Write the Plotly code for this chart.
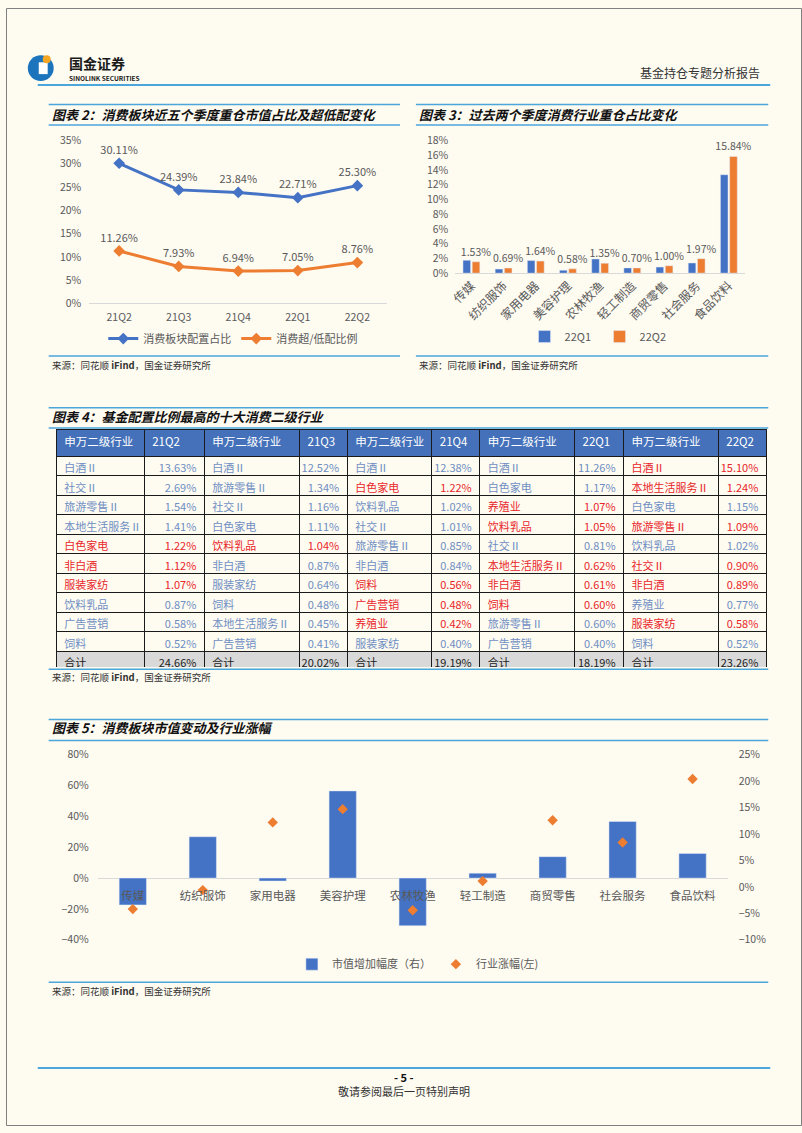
import plotly.graph_objects as go

W, H = 802, 1133
def fx(p): return p / W
def fy(p): return 1 - p / H

BG = '#FEFBF1'
BLUE = '#4472C4'
ORANGE = '#ED7D31'
LINEC = '#4BA6DC'
GRAY = '#595959'
FONT = 'Noto Sans CJK SC'

# ---------------- data ----------------
quarters = ['21Q2', '21Q3', '21Q4', '22Q1', '22Q2']
share = [30.11, 24.39, 23.84, 22.71, 25.30]
overweight = [11.26, 7.93, 6.94, 7.05, 8.76]

industries = ['传媒', '纺织服饰', '家用电器', '美容护理', '农林牧渔', '轻工制造', '商贸零售', '社会服务', '食品饮料']
q1_22 = [1.75, 0.55, 1.70, 0.40, 1.93, 0.71, 0.82, 1.38, 13.36]
q2_22 = [1.53, 0.69, 1.64, 0.58, 1.35, 0.70, 1.00, 1.97, 15.84]

mv_change = [-17.4, 26.8, -1.9, 56.5, -30.9, 3.2, 13.9, 36.7, 16.0]
ind_return = [-4.2, -0.6, 12.2, 14.7, -4.4, 1.1, 12.6, 8.4, 20.4]

tbl_quarters = ['21Q2', '21Q3', '21Q4', '22Q1', '22Q2']
tbl_names = [
    ['白酒Ⅱ', '社交Ⅱ', '旅游零售Ⅱ', '本地生活服务Ⅱ', '白色家电', '非白酒', '服装家纺', '饮料乳品', '广告营销', '饲料'],
    ['白酒Ⅱ', '旅游零售Ⅱ', '社交Ⅱ', '白色家电', '饮料乳品', '非白酒', '服装家纺', '饲料', '本地生活服务Ⅱ', '广告营销'],
    ['白酒Ⅱ', '白色家电', '饮料乳品', '社交Ⅱ', '旅游零售Ⅱ', '非白酒', '饲料', '广告营销', '养殖业', '服装家纺'],
    ['白酒Ⅱ', '白色家电', '养殖业', '饮料乳品', '社交Ⅱ', '本地生活服务Ⅱ', '非白酒', '饲料', '旅游零售Ⅱ', '广告营销'],
    ['白酒Ⅱ', '本地生活服务Ⅱ', '白色家电', '旅游零售Ⅱ', '饮料乳品', '社交Ⅱ', '非白酒', '养殖业', '服装家纺', '饲料'],
]
tbl_values = [
    [13.63, 2.69, 1.54, 1.41, 1.22, 1.12, 1.07, 0.87, 0.58, 0.52],
    [12.52, 1.34, 1.16, 1.11, 1.04, 0.87, 0.64, 0.48, 0.45, 0.41],
    [12.38, 1.22, 1.02, 1.01, 0.85, 0.84, 0.56, 0.48, 0.42, 0.40],
    [11.26, 1.17, 1.07, 1.05, 0.81, 0.62, 0.61, 0.60, 0.60, 0.40],
    [15.10, 1.24, 1.15, 1.09, 1.02, 0.90, 0.89, 0.77, 0.58, 0.52],
]
tbl_totals = [24.66, 20.02, 19.19, 18.19, 23.26]
# 1 = highlighted (red) rows per quarter
tbl_highlight = [
    [0, 0, 0, 0, 1, 1, 1, 0, 0, 0],
    [0, 0, 0, 0, 1, 0, 0, 0, 0, 0],
    [0, 1, 0, 0, 0, 0, 1, 1, 1, 0],
    [0, 0, 1, 1, 0, 1, 1, 1, 0, 0],
    [1, 1, 0, 1, 0, 1, 1, 0, 1, 0],
]

# ---------------- figure ----------------
fig = go.Figure()

# Chart 2 lines
fig.add_trace(go.Scatter(
    x=quarters, y=share, name='消费板块配置占比', mode='lines+markers+text',
    text=[f'{v:.2f}%' for v in share], textposition='top center',
    textfont=dict(size=11, color=GRAY), line=dict(color=BLUE, width=3),
    marker=dict(symbol='diamond', size=9, color=BLUE), cliponaxis=False,
    xaxis='x', yaxis='y', legend='legend'))
fig.add_trace(go.Scatter(
    x=quarters, y=overweight, name='消费超/低配比例', mode='lines+markers+text',
    text=[f'{v:.2f}%' for v in overweight], textposition='top center',
    textfont=dict(size=11, color=GRAY), line=dict(color=ORANGE, width=3),
    marker=dict(symbol='diamond', size=9, color=ORANGE), cliponaxis=False,
    xaxis='x', yaxis='y', legend='legend'))

# Chart 3 bars
fig.add_trace(go.Bar(
    x=industries, y=q1_22, name='22Q1', marker_color=BLUE,
    width=0.237, offset=-0.262, xaxis='x2', yaxis='y2', legend='legend2'))
fig.add_trace(go.Bar(
    x=industries, y=q2_22, name='22Q2', marker_color=ORANGE,
    width=0.237, offset=0.025, text=[f'{v:.2f}%' for v in q2_22],
    textposition='outside', constraintext='none', cliponaxis=False,
    textfont=dict(size=10.5, color=GRAY), xaxis='x2', yaxis='y2', legend='legend2'))

# Chart 5
fig.add_trace(go.Bar(
    x=industries, y=mv_change, name='市值增加幅度（右）', marker_color=BLUE,
    width=0.39, xaxis='x3', yaxis='y3', legend='legend3'))
fig.add_trace(go.Scatter(
    x=industries, y=ind_return, name='行业涨幅(左)', mode='markers',
    marker=dict(symbol='diamond', size=8, color=ORANGE),
    xaxis='x3', yaxis='y4', legend='legend3'))

# Table
hdr = []
cols = []
fills = []
fcolors = []
aligns = []
NORMAL = '#6F8EC3'
RED = '#E8262A'
for qi, q in enumerate(tbl_quarters):
    hdr += ['申万二级行业', q]
    names = tbl_names[qi] + ['合计']
    vals = [f'{v:.2f}%' for v in tbl_values[qi]] + [f'{tbl_totals[qi]:.2f}%']
    colr = [RED if h else NORMAL for h in tbl_highlight[qi]] + ['#222222']
    fl = [BG] * 10 + ['#D9D9D9']
    cols += [names, vals]
    fills += [fl, fl]
    fcolors += [colr, colr]
    aligns += ['left', 'right']

fig.add_trace(go.Table(
    domain=dict(x=[fx(50.7), fx(766.7)], y=[fy(668.3), fy(426.7)]),
    columnwidth=[88.6, 60.7, 96, 48, 85.3, 48.4, 95.6, 49.4, 95.6, 48.4],
    header=dict(values=hdr, fill_color='#4471B9', align='left', height=27,
                font=dict(color='white', size=11.5, family=FONT),
                line=dict(color='#1A1A1A', width=1)),
    cells=dict(values=cols, fill=dict(color=fills), align=aligns, height=19.5,
               font=dict(color=fcolors, size=11, family=FONT),
               line=dict(color='#1A1A1A', width=1))))

tickf = dict(size=10.5, color=GRAY, family=FONT)
fig.update_layout(
    width=W, height=H, autosize=False,
    margin=dict(l=0, r=0, t=0, b=0),
    paper_bgcolor=BG, plot_bgcolor='rgba(0,0,0,0)',
    font=dict(family=FONT, color=GRAY),
    barmode='group',
    xaxis=dict(domain=[fx(84), fx(384)], anchor='y', range=[-0.5, 4.5],
               showline=True, linecolor='#D9D9D9', showgrid=False,
               ticks='outside', ticklen=4, tickcolor='rgba(0,0,0,0)', tickfont=tickf),
    yaxis=dict(domain=[fy(299.3), fy(134.3)], anchor='x', range=[0, 35], dtick=5,
               ticksuffix='%', showgrid=False, zeroline=False, showline=False,
               ticks='outside', ticklen=5, tickcolor='rgba(0,0,0,0)', tickfont=tickf),
    xaxis2=dict(domain=[fx(452.7), fx(744.5)], anchor='y2', range=[-0.5, 8.5],
                showline=True, linecolor='#D9D9D9', showgrid=False, tickangle=-45,
                ticks='', tickfont=dict(size=12, color=GRAY, family=FONT)),
    yaxis2=dict(domain=[fy(268.7), fy(134.3)], anchor='x2', range=[0, 18], dtick=2,
                ticksuffix='%', showgrid=False, zeroline=False, showline=False,
                ticks='outside', ticklen=4, tickcolor='rgba(0,0,0,0)', tickfont=tickf),
    xaxis3=dict(domain=[fx(92.5), fx(727)], anchor='free', position=fy(881.7),
                range=[-0.5, 8.5], showline=False, showgrid=False,
                ticks='outside', ticklen=7, tickcolor='rgba(0,0,0,0)',
                tickfont=dict(size=11.5, color=GRAY, family=FONT)),
    yaxis3=dict(domain=[fy(944.3), fy(756.7)], anchor='x3', range=[-40, 80], dtick=20,
                ticksuffix='%', showgrid=False, zeroline=True, zerolinecolor='#D9D9D9',
                zerolinewidth=1, showline=False,
                ticks='outside', ticklen=6, tickcolor='rgba(0,0,0,0)', tickfont=tickf),
    yaxis4=dict(overlaying='y3', side='right', anchor='x3', range=[-10, 25], dtick=5,
                ticksuffix='%', showgrid=False, zeroline=False, showline=False,
                ticks='outside', ticklen=8, tickcolor='rgba(0,0,0,0)', tickfont=tickf),
    legend=dict(orientation='h', x=fx(98), y=fy(335), xanchor='left', yanchor='middle',
                bgcolor='rgba(0,0,0,0)', font=dict(size=11, color=GRAY, family=FONT),
                itemwidth=30, traceorder='normal'),
    legend2=dict(orientation='h', x=fx(598), y=fy(333), xanchor='center', yanchor='middle',
                 bgcolor='rgba(0,0,0,0)', font=dict(size=11, color=GRAY, family=FONT),
                 itemwidth=30, entrywidth=30, entrywidthmode='pixels'),
    legend3=dict(orientation='h', x=fx(415), y=fy(969), xanchor='center', yanchor='middle',
                 bgcolor='rgba(0,0,0,0)', font=dict(size=11, color=GRAY, family=FONT),
                 itemwidth=30),
)

shapes = []
def hline(y, x0, x1, w=1.5, c=LINEC):
    shapes.append(dict(type='line', xref='paper', yref='paper', x0=fx(x0), x1=fx(x1),
                       y0=fy(y), y1=fy(y), line=dict(color=c, width=w)))

# page border
shapes.append(dict(type='rect', xref='paper', yref='paper', x0=fx(0.5), x1=fx(801.5),
                   y0=fy(1132.5), y1=fy(0.5), line=dict(color='#808080', width=1)))
# header / footer lines
hline(78, 32, 770, 2)
hline(1074.3, 32, 770, 2)
# chart 2/3 title lines
for x0, x1 in [(43, 397), (413, 768)]:
    hline(97.7, x0, x1)
    hline(118.5, x0, x1)
    hline(352.7, x0, x1)
# table
hline(405, 43, 768)
hline(425.7, 43, 768)
hline(670, 43, 768)
# chart 5
hline(721, 43, 768)
hline(742.3, 43, 768)
hline(987.3, 43, 768)

# logo shapes
shapes.append(dict(type='circle', xref='paper', yref='paper', x0=fx(22), x1=fx(48),
                   y0=fy(74), y1=fy(48), fillcolor='#1C75BC', line=dict(width=0)))
shapes.append(dict(type='rect', xref='paper', yref='paper', x0=fx(33), x1=fx(42),
                   y0=fy(67), y1=fy(55), fillcolor='white', line=dict(width=0)))
shapes.append(dict(type='circle', xref='paper', yref='paper', x0=fx(37), x1=fx(45),
                   y0=fy(56), y1=fy(48), fillcolor='#F5A623', line=dict(width=0)))
fig.update_layout(shapes=shapes)

ann = []
def text(x, y, s, size=11, color='#222', xanchor='left', **kw):
    ann.append(dict(xref='paper', yref='paper', x=fx(x), y=fy(y), text=s, showarrow=False,
                    xanchor=xanchor, yanchor='middle', font=dict(size=size, color=color, family=FONT), **kw))

text(61, 56, '<b>国金证券</b>', 14, '#1A1A1A')
text(61, 70.5, '<b>SINOLINK SECURITIES</b>', 6.5, '#1A1A1A')
text(762, 65, '基金持仓专题分析报告', 12, '#333333', xanchor='right')

text(44, 108, '<b><i>图表 2：消费板块近五个季度重仓市值占比及超低配变化</i></b>', 13, '#111111')
text(414, 108, '<b><i>图表 3：过去两个季度消费行业重仓占比变化</i></b>', 13, '#111111')
text(44, 414, '<b><i>图表 4：基金配置比例最高的十大消费二级行业</i></b>', 13, '#111111')
text(44, 729, '<b><i>图表 5：消费板块市值变动及行业涨幅</i></b>', 13, '#111111')

src = '来源：同花顺 <b>iFind</b>，国金证券研究所'
text(44, 362, src, 9.5, '#333333')
text(414, 362, src, 9.5, '#333333')
text(44, 678, src, 9.5, '#333333')
text(44, 996, src, 9.5, '#333333')

text(401, 1083, '<b>- 5 -</b>', 11, '#111111', xanchor='center')
text(401, 1098, '敬请参阅最后一页特别声明', 11, '#333333', xanchor='center')

fig.update_layout(annotations=ann)

fig.write_html('out.html', config={'displayModeBar': False},
               post_script="document.body.style.margin='0px';")
